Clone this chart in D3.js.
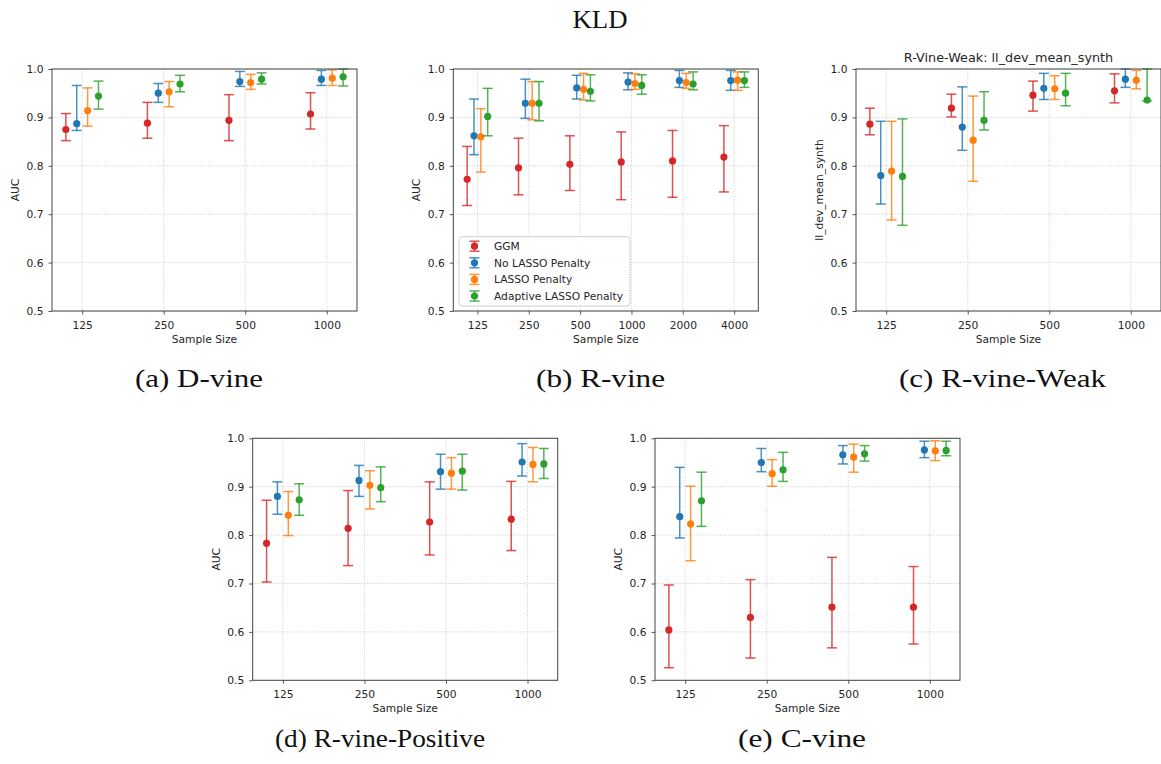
<!DOCTYPE html>
<html><head><meta charset="utf-8">
<script src="https://cdn.jsdelivr.net/npm/d3@7"></script>
<style>body{margin:0;background:#fff;} svg{display:block;}</style>
</head><body>
<script>
// ---------- data ----------
const methods = ["GGM", "No LASSO Penalty", "LASSO Penalty", "Adaptive LASSO Penalty"];
const methodColors = ["#d62728", "#1f77b4", "#ff7f0e", "#2ca02c"];
const sizes4 = ["125", "250", "500", "1000"];
const sizes6 = ["125", "250", "500", "1000", "2000", "4000"];
const yTicks = [0.5, 0.6, 0.7, 0.8, 0.9, 1.0];

// (a) D-vine  rows: GGM, No LASSO, LASSO, Adaptive LASSO
const dvineMean = [[0.875, 0.888, 0.894, 0.907], [0.887, 0.950, 0.974, 0.979], [0.914, 0.953, 0.972, 0.981], [0.944, 0.969, 0.979, 0.984]];
const dvineLow  = [[0.852, 0.857, 0.852, 0.876], [0.873, 0.931, 0.964, 0.966], [0.882, 0.922, 0.958, 0.966], [0.917, 0.953, 0.969, 0.965]];
const dvineHigh = [[0.908, 0.931, 0.947, 0.951], [0.966, 0.970, 0.995, 0.997], [0.961, 0.974, 0.989, 0.998], [0.975, 0.987, 0.992, 1.000]];

// (b) R-vine
const rvineMean = [[0.772, 0.796, 0.803, 0.808, 0.810, 0.818], [0.862, 0.929, 0.961, 0.973, 0.976, 0.976], [0.860, 0.929, 0.958, 0.970, 0.972, 0.977], [0.902, 0.929, 0.954, 0.966, 0.969, 0.976]];
const rvineLow  = [[0.718, 0.740, 0.749, 0.730, 0.735, 0.746], [0.823, 0.898, 0.938, 0.957, 0.962, 0.956], [0.787, 0.895, 0.936, 0.958, 0.960, 0.956], [0.862, 0.893, 0.934, 0.948, 0.957, 0.962]];
const rvineHigh = [[0.840, 0.857, 0.862, 0.870, 0.873, 0.883], [0.938, 0.979, 0.987, 0.992, 0.997, 0.997], [0.918, 0.974, 0.991, 0.990, 0.991, 0.994], [0.960, 0.974, 0.988, 0.988, 0.994, 0.994]];

// (c) R-vine-Weak
const weakMean = [[0.886, 0.919, 0.946, 0.955], [0.780, 0.880, 0.960, 0.979], [0.789, 0.853, 0.959, 0.977], [0.778, 0.894, 0.950, 0.936]];
const weakLow  = [[0.864, 0.901, 0.913, 0.930], [0.721, 0.832, 0.937, 0.962], [0.688, 0.768, 0.937, 0.959], [0.677, 0.874, 0.924, 0.934]];
const weakHigh = [[0.919, 0.948, 0.975, 0.990], [0.892, 0.963, 0.991, 1.000], [0.892, 0.944, 0.986, 0.997], [0.897, 0.953, 0.991, 1.000]];

// (d) R-vine-Positive
const posMean = [[0.783, 0.814, 0.827, 0.833], [0.880, 0.913, 0.931, 0.951], [0.841, 0.903, 0.928, 0.946], [0.873, 0.898, 0.932, 0.947]];
const posLow  = [[0.703, 0.737, 0.759, 0.768], [0.843, 0.880, 0.895, 0.922], [0.799, 0.854, 0.895, 0.910], [0.841, 0.869, 0.893, 0.917]];
const posHigh = [[0.872, 0.892, 0.910, 0.911], [0.910, 0.944, 0.967, 0.989], [0.890, 0.933, 0.960, 0.981], [0.906, 0.941, 0.967, 0.979]];

// (e) C-vine
const cvineMean = [[0.604, 0.630, 0.651, 0.651], [0.838, 0.950, 0.966, 0.976], [0.823, 0.927, 0.961, 0.974], [0.871, 0.935, 0.968, 0.975]];
const cvineLow  = [[0.526, 0.546, 0.567, 0.575], [0.794, 0.931, 0.947, 0.960], [0.747, 0.901, 0.930, 0.954], [0.818, 0.911, 0.953, 0.964]];
const cvineHigh = [[0.697, 0.708, 0.754, 0.735], [0.940, 0.979, 0.985, 0.994], [0.901, 0.956, 0.988, 0.995], [0.930, 0.971, 0.985, 0.994]];

const methodOffsets = [-0.2, -0.0667, 0.0667, 0.2];

// ---------- layout ----------
const W = 1161, H = 764, AW = 305, AH = 242;
const panels = [
  {left: 52,    top: 69,    sizes: sizes4, mean: dvineMean, low: dvineLow, high: dvineHigh, ylabel: "AUC", caption: "(a) D-vine", capX: 199, capY: 386.5, capLen: 128},
  {left: 453.3, top: 69,    sizes: sizes6, mean: rvineMean, low: rvineLow, high: rvineHigh, ylabel: "AUC", caption: "(b) R-vine", capX: 600.5, capY: 386.5, capLen: 129, legend: true},
  {left: 856,   top: 69,    sizes: sizes4, mean: weakMean,  low: weakLow,  high: weakHigh,  ylabel: "ll_dev_mean_synth", title: "R-Vine-Weak: ll_dev_mean_synth", caption: "(c) R-vine-Weak", capX: 1002.5, capY: 386.5, capLen: 207},
  {left: 252.7, top: 438.3, sizes: sizes4, mean: posMean,   low: posLow,   high: posHigh,   ylabel: "AUC", caption: "(d) R-vine-Positive", capX: 380, capY: 746.5, capLen: 210},
  {left: 655,   top: 438.3, sizes: sizes4, mean: cvineMean, low: cvineLow, high: cvineHigh, ylabel: "AUC", caption: "(e) C-vine", capX: 802, capY: 746.5, capLen: 128}
];

const sans = "'DejaVu Sans', sans-serif";
const serif = "'Liberation Serif', 'DejaVu Serif', serif";
const textCol = "#262626", spineCol = "#444";

const svg = d3.select("body").append("svg").attr("width", W).attr("height", H);

svg.append("text").attr("x", 600).attr("y", 28).attr("text-anchor", "middle")
  .attr("font-family", serif).attr("font-size", 26).attr("fill", "#111")
  .attr("textLength", 55).attr("lengthAdjust", "spacingAndGlyphs").text("KLD");

panels.forEach(p => {
  const n = p.sizes.length;
  const span = (n - 1) + 0.4, m = 0.05 * span;
  const x = d3.scaleLinear().domain([-0.2 - m, n - 1 + 0.2 + m]).range([p.left, p.left + AW]);
  const y = d3.scaleLinear().domain([0.5, 1.0]).range([p.top + AH, p.top]);
  const g = svg.append("g");

  // grid
  g.selectAll(".vg").data(d3.range(n)).join("line")
    .attr("x1", d => x(d)).attr("x2", d => x(d)).attr("y1", p.top).attr("y2", p.top + AH)
    .attr("stroke", "#b0b0b0").attr("stroke-width", 0.8).attr("stroke-dasharray", "1,1.6").attr("opacity", 0.8);
  g.selectAll(".hg").data(yTicks).join("line")
    .attr("x1", p.left).attr("x2", p.left + AW).attr("y1", d => y(d)).attr("y2", d => y(d))
    .attr("stroke", "#b0b0b0").attr("stroke-width", 0.8).attr("stroke-dasharray", "1,1.6").attr("opacity", 0.8);

  // axes
  const xa = g.append("g").attr("transform", `translate(0,${p.top + AH})`)
    .call(d3.axisBottom(x).tickValues(d3.range(n)).tickFormat(i => p.sizes[i]).tickSize(3.5).tickPadding(7));
  const ya = g.append("g").attr("transform", `translate(${p.left},0)`)
    .call(d3.axisLeft(y).tickValues(yTicks).tickFormat(d3.format(".1f")).tickSize(3.5).tickPadding(5));
  [xa, ya].forEach(a => {
    a.select(".domain").remove();
    a.selectAll("line").attr("stroke", spineCol).attr("stroke-width", 0.9);
    a.selectAll("text").attr("font-family", sans).attr("font-size", 10.7).attr("fill", textCol);
  });

  // error bars
  methods.forEach((name, k) => {
    const col = methodColors[k];
    const eg = g.append("g");
    d3.range(n).forEach(i => {
      const cx = x(i + methodOffsets[k]);
      const lo = y(p.low[k][i]), hi = y(p.high[k][i]);
      eg.append("line").attr("x1", cx).attr("x2", cx).attr("y1", lo).attr("y2", hi)
        .attr("stroke", col).attr("stroke-width", 1.5).attr("opacity", 0.8);
      [lo, hi].forEach(cy => eg.append("line").attr("x1", cx - 5).attr("x2", cx + 5).attr("y1", cy).attr("y2", cy)
        .attr("stroke", col).attr("stroke-width", 1.5).attr("opacity", 0.8));
    });
    eg.selectAll("circle").data(p.mean[k]).join("circle")
      .attr("cx", (d, i) => x(i + methodOffsets[k])).attr("cy", d => y(d)).attr("r", 3.6).attr("fill", col);
  });

  // frame
  g.append("rect").attr("x", p.left).attr("y", p.top).attr("width", AW).attr("height", AH)
    .attr("fill", "none").attr("stroke", spineCol).attr("stroke-width", 1);

  // labels
  g.append("text").attr("x", p.left + AW / 2).attr("y", p.top + AH + 31.7).attr("text-anchor", "middle")
    .attr("font-family", sans).attr("font-size", 10.7).attr("fill", textCol).text("Sample Size");
  g.append("text").attr("transform", `translate(${p.left - 33},${p.top + AH / 2}) rotate(-90)`)
    .attr("text-anchor", "middle").attr("font-family", sans).attr("font-size", 10.7).attr("fill", textCol).text(p.ylabel);
  if (p.title) {
    g.append("text").attr("x", p.left + AW / 2).attr("y", p.top - 7.5).attr("text-anchor", "middle")
      .attr("font-family", sans).attr("font-size", 12.8).attr("fill", textCol).text(p.title);
  }
  svg.append("text").attr("x", p.capX).attr("y", p.capY).attr("text-anchor", "middle")
    .attr("font-family", serif).attr("font-size", 26).attr("fill", "#111")
    .attr("textLength", p.capLen).attr("lengthAdjust", "spacingAndGlyphs").text(p.caption);

  // legend
  if (p.legend) {
    const lx = p.left + 5.7, ly = p.top + AH - 5 - 69.3;
    const lg = g.append("g");
    lg.append("rect").attr("x", lx).attr("y", ly).attr("width", 171).attr("height", 69.3).attr("rx", 3)
      .attr("fill", "#fff").attr("fill-opacity", 0.85).attr("stroke", "#d0d0d0").attr("stroke-width", 1);
    methods.forEach((name, k) => {
      const cy = ly + 9.5 + k * 16.6, hx = lx + 15.5;
      const col = methodColors[k];
      lg.append("line").attr("x1", hx).attr("x2", hx).attr("y1", cy - 5).attr("y2", cy + 5)
        .attr("stroke", col).attr("stroke-width", 1.5).attr("opacity", 0.8);
      [cy - 5, cy + 5].forEach(yy => lg.append("line").attr("x1", hx - 5).attr("x2", hx + 5).attr("y1", yy).attr("y2", yy)
        .attr("stroke", col).attr("stroke-width", 1.5).attr("opacity", 0.8));
      lg.append("circle").attr("cx", hx).attr("cy", cy).attr("r", 3.6).attr("fill", col);
      lg.append("text").attr("x", lx + 35).attr("y", cy + 3.9).attr("font-family", sans).attr("font-size", 10.7)
        .attr("fill", textCol).text(name);
    });
  }
});
</script>
</body></html>
